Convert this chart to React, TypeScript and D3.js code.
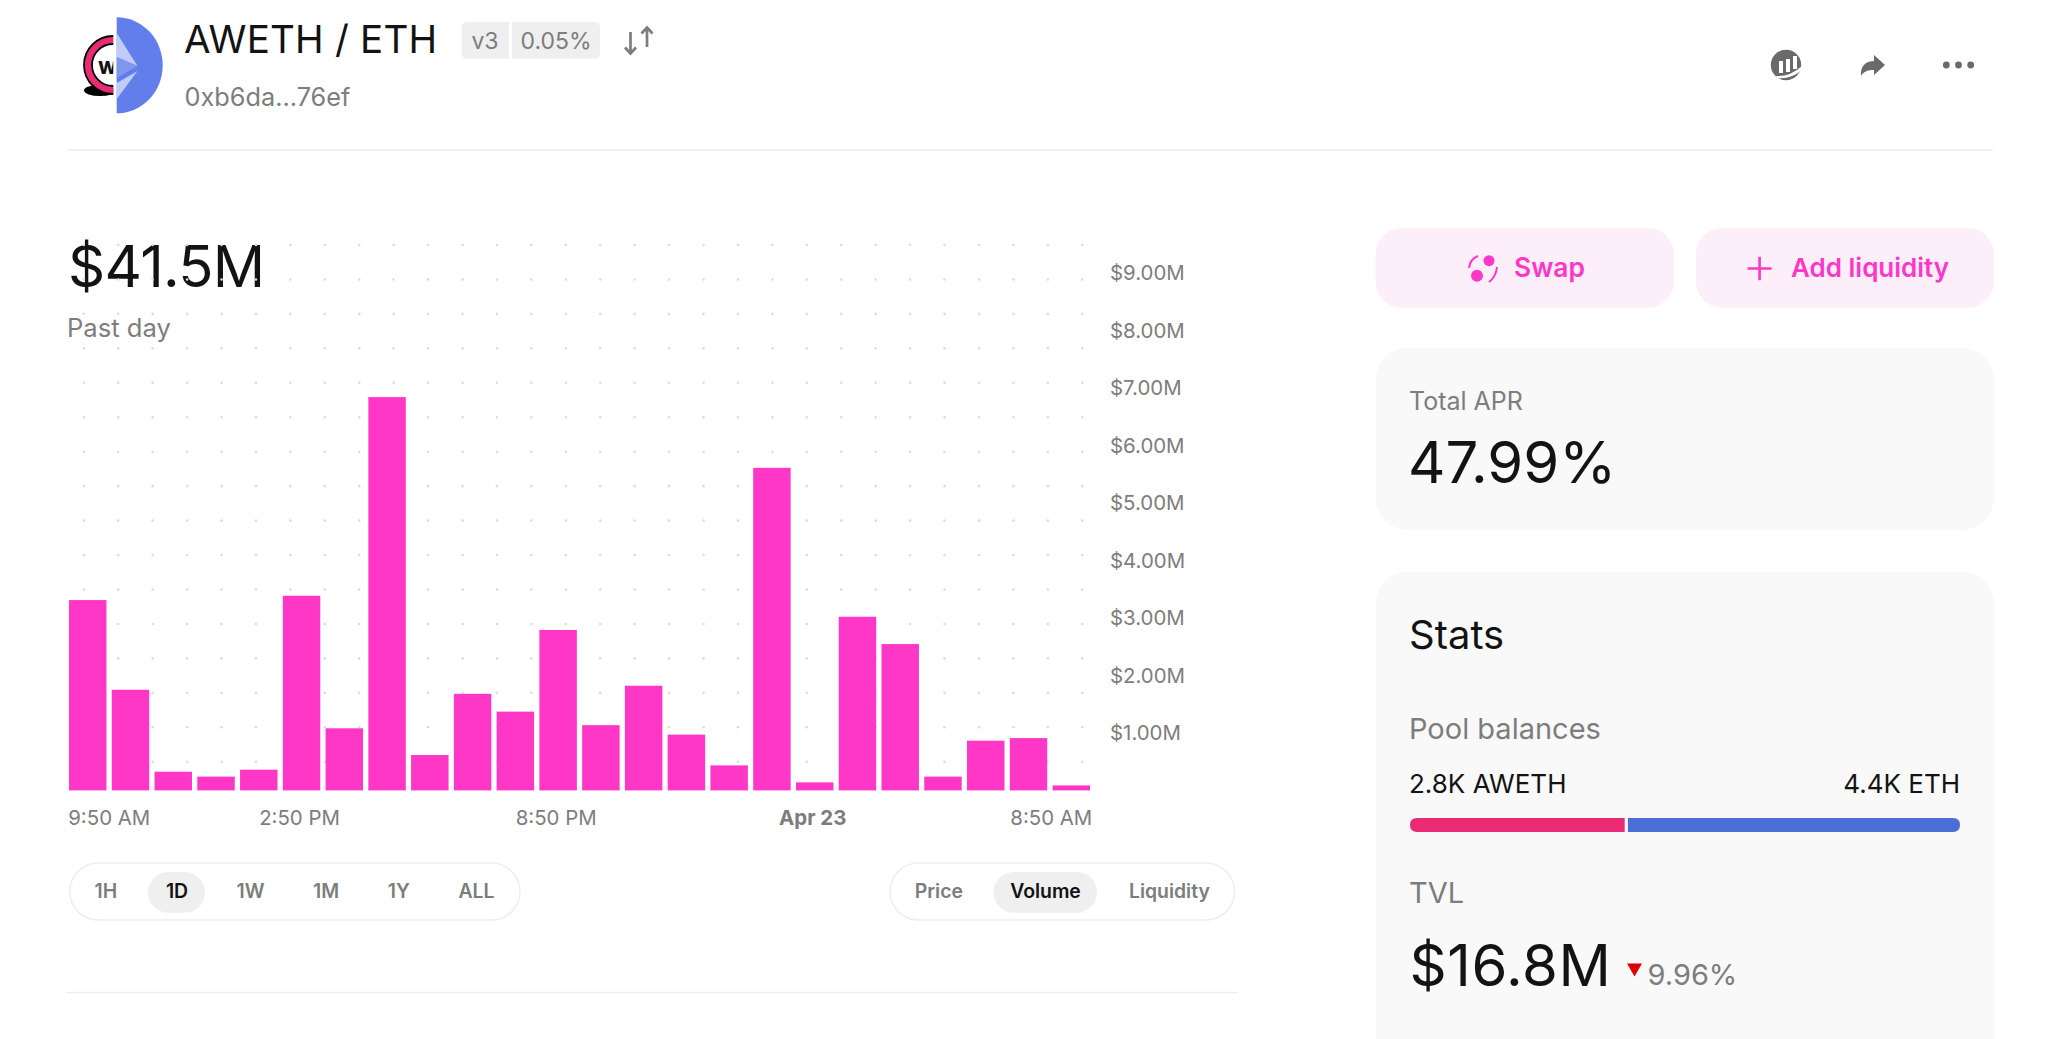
import React, { useEffect, useRef } from 'react';
import * as d3 from 'd3';

// hourly buckets, bucket 17 carries the date label
const hours = [
  '9:50 AM', '10:50 AM', '11:50 AM', '12:50 PM', '1:50 PM', '2:50 PM', '3:50 PM', '4:50 PM',
  '5:50 PM', '6:50 PM', '7:50 PM', '8:50 PM', '9:50 PM', '10:50 PM', '11:50 PM', '12:50 AM',
  '1:50 AM', 'Apr 23', '3:50 AM', '4:50 AM', '5:50 AM', '6:50 AM', '7:50 AM', '8:50 AM',
];
const volumes = [
  3.31, 1.75, 0.325, 0.24, 0.36, 3.385, 1.08, 6.84, 0.615, 1.68, 1.37, 2.79,
  1.135, 1.82, 0.97, 0.435, 5.61, 0.14, 3.02, 2.545, 0.24, 0.865, 0.91, 0.087,
];
const xTicks = ['9:50 AM', '2:50 PM', '8:50 PM', 'Apr 23', '8:50 AM'];
const yTicks = [1, 2, 3, 4, 5, 6, 7, 8, 9];
const balances = [2.8, 4.4];
const timeRanges = ['1H', '1D', '1W', '1M', '1Y', 'ALL'];
const chartModes = ['Price', 'Volume', 'Liquidity'];

const PINK = '#ff37c7';
const DARK = '#131313';
const GREY = '#7d7d7d';
const FONT = 'Inter, sans-serif';

export default function App() {
  const svgRef = useRef<SVGSVGElement | null>(null);

  useEffect(() => {
    if (!svgRef.current) return;
    const svg = d3.select(svgRef.current);
    svg.selectAll('*').remove();

    const text = (
      s: string, x: number, y: number, size: number, color: string,
      weight = 400, anchor = 'start', spacing = 0,
    ) =>
      svg.append('text')
        .attr('x', x).attr('y', y)
        .attr('fill', color)
        .attr('text-anchor', anchor)
        .style('font-family', FONT)
        .style('font-size', `${size}px`)
        .style('font-weight', weight)
        .style('letter-spacing', `${spacing}px`)
        .text(s);

    const rule = (x1: number, x2: number, y: number) =>
      svg.append('line')
        .attr('x1', x1).attr('x2', x2).attr('y1', y).attr('y2', y)
        .attr('stroke', '#eeeeee').attr('stroke-width', 1.5);

    // Header logo
    const defs = svg.append('defs');
    defs.append('clipPath').attr('id', 'logo-left')
      .append('rect').attr('x', 70).attr('y', 10).attr('width', 43.3).attr('height', 110);
    const left = svg.append('g').attr('clip-path', 'url(#logo-left)');
    left.append('ellipse').attr('cx', 100).attr('cy', 90.5).attr('rx', 16).attr('ry', 5.5).attr('fill', '#000');
    left.append('circle').attr('cx', 113).attr('cy', 65).attr('r', 25)
      .attr('fill', '#fff').attr('stroke', '#ea2a75').attr('stroke-width', 7);
    left.append('circle').attr('cx', 113).attr('cy', 65).attr('r', 29).attr('fill', 'none').attr('stroke', '#000').attr('stroke-width', 1.8);
    left.append('circle').attr('cx', 113).attr('cy', 65).attr('r', 21).attr('fill', 'none').attr('stroke', '#000').attr('stroke-width', 1.8);
    left.append('text').attr('x', 98).attr('y', 74).attr('fill', '#111')
      .style('font-family', FONT).style('font-size', '18px').style('font-weight', 800).text('W');

    svg.append('path').attr('d', 'M116.7 17.3 A46 48 0 0 1 116.7 113.3 Z').attr('fill', '#627eea');
    svg.append('path').attr('d', 'M116.7 33 L137.5 66 L116.7 57 Z').attr('fill', '#c0cbf6');
    svg.append('path').attr('d', 'M116.7 57 L137.5 66 L116.7 78 Z').attr('fill', '#8197ee');
    svg.append('path').attr('d', 'M116.7 83 L137.5 71 L116.7 99 Z').attr('fill', '#c0cbf6');

    // Header text
    text('AWETH / ETH', 184, 53, 38.5, DARK, 400, 'start', 0.2);
    text('0xb6da...76ef', 184.5, 106, 25.3, GREY);

    svg.append('path').attr('d', 'M467.6 22 H509 V58.7 H467.6 Q461.6 58.7 461.6 52.7 V28 Q461.6 22 467.6 22 Z').attr('fill', '#efefef');
    svg.append('path').attr('d', 'M512 22 H594 Q600 22 600 28 V52.7 Q600 58.7 594 58.7 H512 Z').attr('fill', '#efefef');
    text('v3', 485, 49, 23, GREY, 400, 'middle');
    text('0.05%', 556, 49, 23, GREY, 400, 'middle');

    svg.append('path')
      .attr('d', 'M630.5 32 V53 M625 47.5 L630.5 53.5 L636 47.5 M647 47 V28 M641.5 33.5 L647 27.5 L652.5 33.5')
      .attr('fill', 'none').attr('stroke', GREY).attr('stroke-width', 2.7);

    // Header actions
    svg.append('circle').attr('cx', 1786).attr('cy', 65).attr('r', 15.2).attr('fill', '#6a6a6a');
    svg.append('path').attr('d', 'M1779 61 h4 v12 h-4 Z M1786 59 h4 v13 h-4 Z M1793 56 h4 v13 h-4 Z').attr('fill', '#fff');
    svg.append('path').attr('d', 'M1776 76 Q1790 77 1802 66 L1802 70 Q1790 80 1777 78 Z').attr('fill', '#fff');
    svg.append('path')
      .attr('d', 'M1885 65 L1874 55 L1874 61 C1866 61 1860 66 1861 76 C1864 71 1868 70 1874 70 L1874 75 Z')
      .attr('fill', '#6a6a6a');
    svg.selectAll('.more').data(d3.range(3)).enter().append('circle')
      .attr('cx', (d) => 1946.3 + d * 12.2).attr('cy', 65).attr('r', 3.4).attr('fill', '#6a6a6a');

    rule(67, 1993, 150);

    // Headline
    text('$41.5M', 68, 287, 58, DARK, 400, 'start', -0.7);
    text('Past day', 67, 337, 25.6, GREY);

    // Scales
    const x = d3.scaleBand<string>().domain(hours).range([69, 1090]).paddingInner(0.124).paddingOuter(0);
    const y = d3.scaleLinear().domain([0, 9]).range([790.4, 272.9]);

    // Dotted background
    const dotCols = d3.range(30).map((i) => 83.8 + i * 34.43);
    const dotRows = d3.range(16).map((i) => 245 + i * 34.45);
    svg.append('g').selectAll('circle')
      .data(dotRows.flatMap((cy) => dotCols.map((cx) => ({ cx, cy }))))
      .enter().append('circle')
      .attr('cx', (d) => d.cx).attr('cy', (d) => d.cy).attr('r', 1.3).attr('fill', '#dcdcdc');

    // Bars
    svg.append('g').selectAll('rect')
      .data(volumes)
      .enter().append('rect')
      .attr('x', (_, i) => x(hours[i]) as number)
      .attr('width', x.bandwidth())
      .attr('y', (d) => y(d))
      .attr('height', (d) => y(0) - y(d))
      .attr('fill', PINK);

    // Axes
    const xAxis = svg.append('g')
      .attr('transform', 'translate(0,790.4)')
      .call(d3.axisBottom(x).tickValues(xTicks).tickSize(0).tickPadding(20));
    xAxis.select('.domain').remove();
    xAxis.selectAll<SVGTextElement, string>('text')
      .attr('fill', GREY)
      .style('font-family', FONT)
      .style('font-size', '20.4px')
      .style('font-weight', (d) => (d === 'Apr 23' ? 700 : 400))
      .attr('text-anchor', (d) => (d === '9:50 AM' ? 'start' : d === '8:50 AM' ? 'end' : 'middle'))
      .attr('x', (d) => (d === '9:50 AM' ? -19.5 : d === '8:50 AM' ? 21 : -2));

    const yAxis = svg.append('g')
      .attr('transform', 'translate(1110,0.4)')
      .call(d3.axisRight(y).tickValues(yTicks).tickSize(0).tickPadding(0).tickFormat((d) => `$${d}.00M`));
    yAxis.select('.domain').remove();
    yAxis.selectAll('text')
      .attr('fill', GREY)
      .style('font-family', FONT)
      .style('font-size', '20.4px');

    // Range and mode selectors
    const pill = (x0: number, x1: number, y0: number, y1: number, fill: string, stroke: string) =>
      svg.append('rect')
        .attr('x', x0).attr('y', y0).attr('width', x1 - x0).attr('height', y1 - y0)
        .attr('rx', (y1 - y0) / 2)
        .attr('fill', fill).attr('stroke', stroke).attr('stroke-width', 1.5);

    pill(69.8, 520, 863, 920, '#fff', '#eeeeee');
    pill(148, 205, 872, 912.7, '#efefef', 'none');
    const rangeX = [105.9, 177, 250.5, 326, 398.8, 476.5];
    timeRanges.forEach((t, i) => {
      text(t, rangeX[i], 898, 19.4, t === '1D' ? DARK : GREY, 600, 'middle');
    });

    pill(890, 1234.5, 863, 920, '#fff', '#eeeeee');
    pill(993.5, 1097, 872, 912.7, '#efefef', 'none');
    const modeX = [938.8, 1045.5, 1169.4];
    chartModes.forEach((t, i) => {
      text(t, modeX[i], 898, 19.4, t === 'Volume' ? DARK : GREY, 600, 'middle');
    });

    rule(66, 1238, 992.5);

    // Buttons
    const card = (x0: number, x1: number, y0: number, y1: number, r: number, fill: string) =>
      svg.append('rect')
        .attr('x', x0).attr('y', y0).attr('width', x1 - x0).attr('height', y1 - y0)
        .attr('rx', r).attr('fill', fill);

    card(1375.5, 1674, 228, 307.7, 26, '#fdeffa');
    card(1696, 1994, 228, 307.7, 26, '#fdeffa');

    svg.append('circle').attr('cx', 1489).attr('cy', 260.7).attr('r', 5.5).attr('fill', PINK);
    svg.append('circle').attr('cx', 1477).attr('cy', 275.7).attr('r', 6).attr('fill', PINK);
    svg.append('path').attr('d', 'M1469 268 Q1470 259 1478 256 M1497 267 Q1496 277 1489 282')
      .attr('fill', 'none').attr('stroke', PINK).attr('stroke-width', 2);
    text('Swap', 1514, 277, 26.4, PINK, 600);

    svg.append('path').attr('d', 'M1747.6 268.5 H1771.6 M1759.6 256.7 V280.3')
      .attr('fill', 'none').attr('stroke', PINK).attr('stroke-width', 2.6);
    text('Add liquidity', 1791, 277, 26, PINK, 600);

    // APR card
    card(1375.5, 1994, 348, 530, 32, '#f9f9f9');
    text('Total APR', 1409, 410, 25, GREY);
    text('47.99%', 1408, 482.7, 58, DARK);

    // Stats card
    card(1375.5, 1994, 571.7, 1080, 32, '#f9f9f9');
    text('Stats', 1409, 649, 40, DARK);
    text('Pool balances', 1409, 739, 29, GREY);
    text(`${balances[0]}K AWETH`, 1409, 793, 26, DARK);
    text(`${balances[1]}K ETH`, 1960, 793, 26, DARK, 400, 'end');

    const share = d3.scaleLinear().domain([0, d3.sum(balances)]).range([1410, 1960]);
    svg.append('path')
      .attr('d', `M${share(balances[0]) + 0.8} 818 H1417 Q1410 818 1410 825 Q1410 832 1417 832 H${share(balances[0]) + 0.8} Z`)
      .attr('fill', '#ea2a75');
    svg.append('path')
      .attr('d', `M${share(balances[0]) + 4} 818 H1953 Q1960 818 1960 825 Q1960 832 1953 832 H${share(balances[0]) + 4} Z`)
      .attr('fill', '#4a6fd4');

    text('TVL', 1409, 902.5, 29, GREY);
    text('$16.8M', 1409.5, 986, 58, DARK, 400, 'start', 0.6);
    svg.append('path').attr('d', 'M1627 963.5 H1642 L1634.5 976.5 Z').attr('fill', '#e00000');
    text('9.96%', 1647.5, 985, 29, GREY);
  }, []);

  return (
    <svg
      ref={svgRef}
      width={2048}
      height={1039}
      style={{ position: 'absolute', left: 0, top: 0, background: '#fff' }}
    />
  );
}
